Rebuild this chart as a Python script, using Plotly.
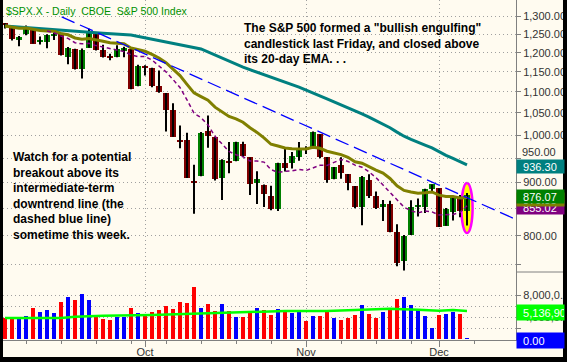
import math
import plotly.graph_objects as go
from plotly.subplots import make_subplots
import pandas as pd

# ---------------- data (S&P 500 daily, Sep 3 - Dec 5 2008) ----------------
dates = [
    "2008-09-03", "2008-09-04", "2008-09-05", "2008-09-08", "2008-09-09", "2008-09-10", "2008-09-11",
    "2008-09-12", "2008-09-15", "2008-09-16", "2008-09-17", "2008-09-18", "2008-09-19", "2008-09-22",
    "2008-09-23", "2008-09-24", "2008-09-25", "2008-09-26", "2008-09-29", "2008-09-30",
    "2008-10-01", "2008-10-02", "2008-10-03", "2008-10-06", "2008-10-07", "2008-10-08", "2008-10-09",
    "2008-10-10", "2008-10-13", "2008-10-14", "2008-10-15", "2008-10-16", "2008-10-17", "2008-10-20",
    "2008-10-21", "2008-10-22", "2008-10-23", "2008-10-24", "2008-10-27", "2008-10-28", "2008-10-29",
    "2008-10-30", "2008-10-31",
    "2008-11-03", "2008-11-04", "2008-11-05", "2008-11-06", "2008-11-07", "2008-11-10", "2008-11-11",
    "2008-11-12", "2008-11-13", "2008-11-14", "2008-11-17", "2008-11-18", "2008-11-19", "2008-11-20",
    "2008-11-21", "2008-11-24", "2008-11-25", "2008-11-26", "2008-11-28",
    "2008-12-01", "2008-12-02", "2008-12-03", "2008-12-04", "2008-12-05",
]
opens = [
    1276.61, 1271.80, 1233.21, 1249.50, 1267.98, 1227.50, 1229.04, 1245.88, 1250.92, 1188.31,
    1210.34, 1157.08, 1213.11, 1255.37, 1207.61, 1188.79, 1187.87, 1204.47, 1209.07, 1113.78,
    1164.17, 1160.64, 1115.16, 1097.56, 1057.60, 988.91, 988.42, 902.31, 912.75, 1009.97,
    994.60, 909.53, 942.29, 943.51, 980.40, 951.67, 899.08, 895.22, 874.28, 848.92,
    939.51, 939.38, 953.11, 968.67, 971.31, 1001.84, 952.40, 907.44, 936.75, 917.15,
    893.39, 853.13, 904.36, 873.23, 852.34, 859.03, 805.87, 755.84, 801.20, 853.40,
    852.90, 886.89, 888.61, 817.94, 843.60, 869.75, 844.43,
]
highs = [
    1280.60, 1271.80, 1244.94, 1274.42, 1268.66, 1243.90, 1249.98, 1255.09, 1250.92, 1214.84,
    1210.34, 1211.14, 1265.33, 1255.37, 1221.15, 1197.41, 1220.03, 1215.77, 1209.07, 1168.03,
    1167.03, 1160.64, 1153.82, 1097.56, 1072.91, 1021.06, 1005.25, 936.36, 1006.93, 1044.31,
    994.60, 947.71, 984.64, 985.40, 985.44, 951.67, 922.83, 896.30, 893.78, 940.51,
    969.97, 963.23, 984.38, 975.57, 1007.51, 1001.84, 952.40, 931.46, 951.95, 917.15,
    893.39, 913.01, 916.88, 882.29, 865.90, 864.57, 820.52, 801.20, 865.60, 868.94,
    887.68, 896.25, 888.61, 850.54, 873.12, 875.60, 879.42,
]
lows = [
    1265.59, 1232.83, 1217.23, 1247.12, 1224.51, 1221.60, 1211.54, 1233.81, 1192.70, 1169.28,
    1155.88, 1133.50, 1213.11, 1205.61, 1187.06, 1179.79, 1187.87, 1187.54, 1106.42, 1113.78,
    1140.77, 1111.43, 1098.14, 1007.97, 996.23, 970.97, 909.19, 839.80, 912.75, 972.07,
    903.99, 865.83, 918.74, 943.51, 952.47, 875.81, 858.44, 852.85, 846.75, 845.27,
    922.26, 928.50, 944.59, 958.82, 971.31, 949.86, 899.73, 906.90, 907.47, 884.90,
    850.48, 818.69, 869.88, 848.98, 826.84, 806.18, 747.78, 741.02, 801.20, 834.99,
    841.37, 881.21, 815.69, 817.94, 827.60, 833.60, 818.41,
]
closes = [
    1274.98, 1236.83, 1242.31, 1267.79, 1224.51, 1232.04, 1249.05, 1251.70, 1192.70, 1213.60,
    1156.39, 1206.51, 1255.08, 1207.09, 1188.22, 1185.87, 1209.18, 1213.27, 1106.42, 1166.36,
    1161.06, 1114.28, 1099.23, 1056.89, 996.23, 984.94, 909.92, 899.22, 1003.35, 998.01,
    907.84, 946.43, 940.55, 985.40, 955.05, 896.78, 908.11, 876.77, 848.92, 940.51,
    930.09, 954.09, 968.75, 966.30, 1005.75, 952.77, 904.88, 930.99, 919.21, 898.95,
    852.30, 911.29, 873.29, 850.75, 859.12, 806.58, 752.44, 800.03, 851.81, 857.39,
    887.68, 896.24, 816.21, 848.81, 870.74, 845.22, 876.07,
]
prev_close = 1277.58  # close of Sep 2, used to colour the first volume bar

# volume, millions of shares
volumes = [
    3846, 4029, 3846, 4212, 5678, 4945, 5311, 4762, 6777, 7692,
    7143, 8242, 7143, 4029, 3663, 3480, 4029, 4029, 5678, 4762,
    4579, 4945, 5311, 6044, 5494, 6777, 6593, 9524, 5678, 6410,
    5128, 6410, 5128, 4029, 4029, 4945, 5678, 5311, 4396, 5494,
    5311, 4762, 4945, 3297, 4212, 4212, 4945, 3846, 3480, 3846,
    4396, 6227, 4579, 3846, 4945, 5311, 7326, 7692, 6227, 5311,
    4212, 2015, 4396, 4579, 4945, 4579, 150,
]

# 50-day moving average (teal), positions are trading-day numbers from Sep 3
ma50_pos = [0, 9, 14, 18, 23, 28, 34, 42, 46, 49, 50, 51, 52, 53, 54, 55, 56, 57, 58,
            59, 60, 61, 62, 63, 64, 65, 66]
ma50_val = [1273, 1259, 1253, 1248, 1229, 1210, 1162, 1112, 1083, 1062.82, 1054.37,
            1047.86, 1040.48, 1032.14, 1024.83, 1016.32, 1006.39, 997.36, 990.54,
            983.41, 978.04, 971.83, 963.06, 955.89, 949.54, 942.73, 936.07]

# 20-day EMA (olive), one value per bar
ema20_val = [
    1273.00, 1269.56, 1266.96, 1267.04, 1262.99, 1260.04, 1258.99, 1258.30, 1252.05, 1248.39,
    1239.63, 1236.47, 1238.25, 1235.28, 1230.80, 1226.52, 1224.86, 1223.76, 1212.58, 1208.18,
    1203.69, 1195.18, 1186.04, 1173.74, 1156.84, 1140.46, 1118.51, 1097.62, 1088.64, 1080.01,
    1063.62, 1052.45, 1041.80, 1036.43, 1028.68, 1016.11, 1005.83, 993.54, 979.76, 976.02,
    971.65, 969.98, 969.86, 969.52, 972.97, 971.05, 964.75, 961.53, 957.50, 951.93,
    942.44, 939.47, 933.17, 925.32, 919.01, 908.31, 893.46, 884.56, 881.44, 879.15,
    879.96, 881.51, 875.29, 872.77, 872.58, 869.97, 870.55,
]

# 10-day moving average (purple dashed), from Sep 11 on
ma10_start = 6
ma10_val = [
    1258.9, 1254.0, 1244.9, 1238.6, 1226.7, 1223.7, 1224.9, 1218.9, 1215.2, 1210.6,
    1206.6, 1202.8, 1194.2, 1189.4, 1189.9, 1180.7, 1165.1, 1150.1, 1130.9, 1110.8,
    1080.9, 1049.5, 1039.1, 1022.3, 997.0, 980.2, 964.3, 957.2, 953.1, 944.3,
    944.1, 941.8, 926.4, 920.6, 922.9, 923.6, 926.4, 924.5, 929.6, 935.2,
    934.9, 940.3, 947.3, 943.2, 935.4, 931.1, 921.6, 910.0, 895.4, 880.7,
    865.5, 852.4, 845.7, 841.5, 845.0, 843.5, 837.8, 837.6, 838.8, 842.7, 855.02,
]

# average volume (green line in the lower panel)
vavg_pos = [0, 8, 10, 14, 21, 25, 28, 32, 35, 40, 46, 49, 55, 59, 62, 64, 66]
vavg_val = [3846, 3846, 4090, 4274, 4396, 4579, 4701, 4884, 5006, 5128, 5128, 5311,
            5556, 5372, 5189, 5311, 5137]

# dashed blue downtrend line (two anchor points: trading-day number, price)
trend_pos = [8.1, 72.9]
trend_val = [1299, 830]

# highlighted candle ("bullish engulfing") ellipse price span
highlight_low, highlight_high = 805, 899

price_ticks = [750, 800, 850, 900, 950, 1000, 1050, 1100, 1150, 1200, 1250, 1300]
vol_ticks = [2000, 4000, 6000, 8000]
vol_ticktext = ["", "4,000,0..", "", "8,000,0.."]

# ---------------- styling ----------------
FONT = "Liberation Sans, Arial, sans-serif"
BG = "#FFFBF0"
GRID = "#A0A0A0"
AXIS = "#808080"
TXT = "#333333"
UP, DOWN = "#008000", "#800000"
TEAL, OLIVE, PURPLE = "#008080", "#808000", "#800080"
PRICE_RANGE = [2.86827, 3.12981]  # log10 range of the price axis

n = len(dates)
pos = list(range(n))
dt = pd.to_datetime(dates)

month_pos = [i for i in range(1, n) if dt[i].month != dt[i - 1].month]
month_txt = [dt[i].strftime("%b") for i in month_pos]
week_pos = [i for i in range(n) if dt[i].weekday() == 0] + [n]  # next Monday after last bar

fig = make_subplots(rows=2, cols=1, shared_xaxes=True, vertical_spacing=0,
                    row_heights=[0.8, 0.2])

# wicks
wx, wy = [], []
for i in pos:
    wx += [i, i, None]
    wy += [lows[i], highs[i], None]
fig.add_trace(go.Scatter(x=wx, y=wy, mode="lines", line=dict(color="black", width=2),
                         hoverinfo="skip"), row=1, col=1)

# bodies
base = [min(o, c) for o, c in zip(opens, closes)]
height = [max(abs(c - o), 0.0045 * min(o, c)) for o, c in zip(opens, closes)]
bcol = [UP if c > o else DOWN for o, c in zip(opens, closes)]
fig.add_trace(go.Bar(x=pos, y=height, base=base, width=0.8,
                     marker=dict(color=bcol, line=dict(width=0))), row=1, col=1)

# moving averages
fig.add_trace(go.Scatter(x=ma50_pos, y=ma50_val, mode="lines",
                         line=dict(color=TEAL, width=3)), row=1, col=1)
fig.add_trace(go.Scatter(x=pos, y=ema20_val, mode="lines",
                         line=dict(color=OLIVE, width=3)), row=1, col=1)
fig.add_trace(go.Scatter(x=list(range(ma10_start, n)), y=ma10_val, mode="lines",
                         line=dict(color=PURPLE, width=1.5, dash="4px,3px")), row=1, col=1)
fig.add_trace(go.Scatter(x=trend_pos, y=trend_val, mode="lines",
                         line=dict(color="#0000FF", width=1.3, dash="14px,6px")), row=1, col=1)

# volume
vcol = []
for i in pos:
    pc = prev_close if i == 0 else closes[i - 1]
    vcol.append("#0000FF" if closes[i] >= pc else "#FF0000")
fig.add_trace(go.Bar(x=pos, y=volumes, width=0.5,
                     marker=dict(color=vcol, line=dict(width=0))), row=2, col=1)
fig.add_trace(go.Scatter(x=vavg_pos, y=vavg_val, mode="lines",
                         line=dict(color="#00FF00", width=2.5)), row=2, col=1)

xr = [-0.286, 73.0]
fig.update_layout(
    width=567, height=362, autosize=False,
    margin=dict(l=3, r=51, t=0, b=22),
    paper_bgcolor=BG, plot_bgcolor=BG, showlegend=False, bargap=0,
    font=dict(family=FONT, size=11, color=TXT),
)
fig.update_xaxes(range=xr, showgrid=True, gridcolor=GRID, griddash="1px,3px", gridwidth=1,
                 tickvals=month_pos, zeroline=False, automargin=False)
fig.update_xaxes(showticklabels=False, ticks="", showline=False, row=1, col=1)
fig.update_xaxes(ticktext=month_txt, showticklabels=True, ticks="outside", ticklen=6,
                 ticklabelstandoff=-4,
                 tickcolor=AXIS, showline=True, linecolor=AXIS, linewidth=1,
                 tickfont=dict(size=11, color=TXT, family=FONT),
                 minor=dict(tickvals=week_pos, ticks="outside", ticklen=3, tickcolor=AXIS,
                            showgrid=False),
                 row=2, col=1)

price_text = ["" if v in (750, 950) else f"{v:,.2f}" for v in price_ticks]
fig.update_yaxes(type="log", range=PRICE_RANGE, side="right",
                 tickvals=price_ticks, ticktext=price_text, ticks="outside", ticklen=4,
                 tickcolor=AXIS, showline=True, linecolor=AXIS, linewidth=1,
                 showgrid=True, gridcolor=GRID, griddash="1px,3px", zeroline=False,
                 automargin=False,
                 tickfont=dict(size=11, color=TXT, family=FONT), row=1, col=1)
fig.update_yaxes(range=[-183, 12265], side="right", tickvals=vol_ticks,
                 ticktext=vol_ticktext, ticks="outside", ticklen=4, tickcolor=AXIS,
                 showline=True, linecolor=AXIS, linewidth=1, showgrid=True,
                 gridcolor=GRID, griddash="1px,3px", zeroline=False, automargin=False,
                 tickfont=dict(size=11, color=TXT, family=FONT), row=2, col=1)


def value_box(text, y, yref, color, yshift, h):
    return dict(text="\u00a0\u00a0" + text, xref="paper", x=1.0, xanchor="left",
                yref=yref, y=y, yanchor="middle", yshift=yshift, showarrow=False,
                bgcolor=color, font=dict(color="white", size=11, family=FONT),
                width=47, height=h, align="left", borderpad=0)


def price_domain(v):
    # fraction of the price panel height for a price on the log axis
    return (math.log10(v) - PRICE_RANGE[0]) / (PRICE_RANGE[1] - PRICE_RANGE[0])


last = n - 1
annotations = [
    dict(text="$SPX.X - Daily\u00a0\u00a0CBOE\u00a0\u00a0S&P 500 Index", xref="paper", yref="paper",
         x=0.002, y=0.9676, xanchor="left", yanchor="middle", showarrow=False,
         font=dict(color="#009000", size=10.5, family=FONT)),
    dict(text="<b>The S&P 500 formed a \"bullish engulfing\"<br>candlestick last Friday, and closed above"
              "<br>its 20-day EMA. . .</b>",
         xref="paper", yref="paper", x=0.4659, y=0.8706, xanchor="left", yanchor="middle",
         align="left", showarrow=False, font=dict(color="black", size=12, family=FONT)),
    dict(text="<b>Watch for a potential<br>breakout above its<br>intermediate-term<br>"
              "downtrend line (the<br>dashed blue line)<br>sometime this week.</b>",
         xref="paper", yref="paper", x=0.0156, y=0.4235, xanchor="left", yanchor="middle",
         align="left", showarrow=False, font=dict(color="black", size=12, family=FONT)),
    dict(text="950.00", xref="paper", x=1.0, xanchor="left", xshift=4, yref="y",
         y=math.log10(950), yanchor="middle", yshift=6, showarrow=False,
         font=dict(color=TXT, size=11, family=FONT)),
    value_box(f"{ma50_val[-1] + 0.23:.2f}", math.log10(ma50_val[-1]), "y", TEAL, -2, 13),
    value_box(f"{ma10_val[-1]:.2f}", math.log10(ma10_val[-1]), "y", PURPLE, -2, 13),
    value_box(f"{ema20_val[-1]:.2f}", math.log10(ema20_val[-1]), "y", OLIVE, -2, 13),
    value_box(f"{closes[last]:.2f}", math.log10(closes[last]), "y", UP, -2, 13),
    value_box("5,136,90", vavg_val[-1], "y2", "#00FF00", -2, 15),
    value_box("0.00", 0, "y2", "#0000FF", -1, 15),
]
fig.update_layout(annotations=annotations)

shapes = [
    dict(type="circle", xref="x", yref="y domain", x0=last - 0.8, x1=last + 0.8,
         y0=price_domain(highlight_low), y1=price_domain(highlight_high),
         fillcolor="#FFFF00", line=dict(color="#FF00FF", width=2.5), layer="below"),
    dict(type="line", xref="paper", yref="paper", x0=1.0, x1=1.0916, y0=0.2, y1=0.2,
         line=dict(color=AXIS, width=1)),
    dict(type="rect", xref="paper", yref="paper", x0=-0.02, x1=0.0, y0=-0.1, y1=1.02,
         fillcolor="black", line=dict(width=0), layer="above"),
    dict(type="rect", xref="paper", yref="paper", x0=1.0916, x1=1.2, y0=-0.1, y1=1.02,
         fillcolor="black", line=dict(width=0), layer="above"),
    dict(type="rect", xref="paper", yref="paper", x0=-0.02, x1=1.2, y0=-0.1, y1=-0.05,
         fillcolor="black", line=dict(width=0), layer="above"),
]
fig.update_layout(shapes=shapes)

fig.write_html("out.html", config={"displayModeBar": False},
               post_script="document.body.style.margin='0px';")
